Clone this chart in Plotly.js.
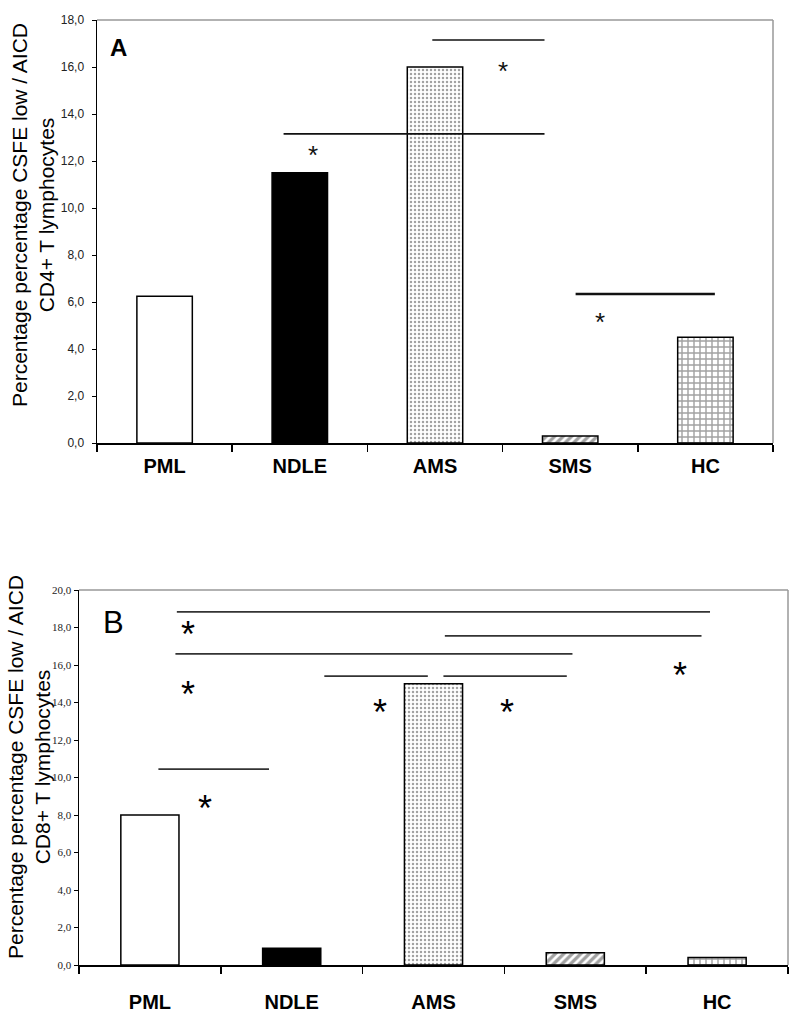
<!DOCTYPE html>
<html>
<head>
<meta charset="utf-8">
<script src="https://cdn.plot.ly/plotly-3.0.1.min.js"></script>
<style>html,body{margin:0;padding:0;background:#fff;}#chart{width:800px;height:1025px;}</style>
</head>
<body>
<div id="chart"></div>
<script>
// ---- data ----
const categories = ["PML", "NDLE", "AMS", "SMS", "HC"];
const valuesA = [6.25, 11.5, 16.0, 0.3, 4.5];
const valuesB = [8.0, 0.9, 15.0, 0.65, 0.4];

const yTickValsA = [0, 2, 4, 6, 8, 10, 12, 14, 16, 18];
const yTickTextA = ["0,0", "2,0", "4,0", "6,0", "8,0", "10,0", "12,0", "14,0", "16,0", "18,0"];
const yTickValsB = [0, 2, 4, 6, 8, 10, 12, 14, 16, 18, 20];
const yTickTextB = ["0,0", "2,0", "4,0", "6,0", "8,0", "10,0", "12,0", "14,0", "16,0", "18,0", "20,0"];

// significance brackets (category-index units, value units)
const sigA_x0 = [1.98, 0.88, 3.04];
const sigA_x1 = [2.81, 2.81, 4.07];
const sigA_y = [17.15, 13.15, 6.34];
const starsA_x = [2.50, 1.10, 3.22];
const starsA_y = [16.04, 12.47, 5.36];

const sigB_x0 = [0.19, 2.08, 0.18, 1.23, 2.07, 0.06];
const sigB_x1 = [3.95, 3.89, 2.98, 1.96, 2.94, 0.84];
const sigB_y = [18.83, 17.55, 16.59, 15.41, 15.41, 10.45];
const starsB_x = [0.27, 0.27, 1.62, 2.52, 3.74, 0.39];
const starsB_y = [18.08, 14.83, 13.87, 13.87, 15.89, 8.8];

const yTitleA = "Percentage percentage CSFE low / AICD<br>CD4+ T lymphocytes";
const yTitleB = "Percentage percentage CSFE low / AICD<br>CD8+ T lymphocytes";

// ---- styles ----
const SANS = "Liberation Sans, Arial, sans-serif";
const SERIF = "Liberation Serif, Times New Roman, serif";
const barColors = ["#ffffff", "#000000", "#ffffff", "#ffffff", "#ffffff"];
const patShapes = ["", "", ".", "/", "+"];
const patSizes = [6, 6, 4, 6, 6];
const patSolid = [0.3, 0.3, 0.3, 0.55, 0.42];

function barTrace(vals, xa, ya) {
  return {
    type: "bar", x: categories, y: vals, xaxis: xa, yaxis: ya,
    width: 0.41,
    marker: {
      color: barColors,
      line: {color: "#000", width: 1.5},
      pattern: {shape: patShapes, size: patSizes, solidity: patSolid, fgcolor: "#000", bgcolor: "#fff", fillmode: "overlay"}
    },
    hoverinfo: "skip", showlegend: false
  };
}

const W = 800, H = 1025;
const px = v => v / W, py = v => 1 - v / H;

// plot areas in pixels
const A = {l: 97, r: 773, t: 20, b: 443};
const B = {l: 79, r: 788, t: 590, b: 965};

const shapes = [];
const annotations = [];

function frame(P) {
  shapes.push({type: "line", xref: "paper", yref: "paper", x0: px(P.l), x1: px(P.r), y0: py(P.t), y1: py(P.t), line: {color: "#999", width: 1.5}});
  shapes.push({type: "line", xref: "paper", yref: "paper", x0: px(P.r), x1: px(P.r), y0: py(P.t), y1: py(P.b), line: {color: "#999", width: 1.5}});
}
frame(A); frame(B);

sigA_y.forEach((y, i) => {
  shapes.push({type: "line", xref: "x", yref: "y", x0: sigA_x0[i], x1: sigA_x1[i], y0: y, y1: y,
    line: {color: "#111", width: i === 2 ? 2.6 : 1.7}});
});
sigB_y.forEach((y, i) => {
  shapes.push({type: "line", xref: "x2", yref: "y2", x0: sigB_x0[i], x1: sigB_x1[i], y0: y, y1: y,
    line: {color: "#333", width: 1.7}});
});

starsA_x.forEach((x, i) => {
  annotations.push({xref: "x", yref: "y", x: x, y: starsA_y[i], text: "*", showarrow: false,
    xanchor: "center", yanchor: "middle",
    font: {family: SANS, size: 26, color: "#111"}, yshift: -5});
});
starsB_x.forEach((x, i) => {
  annotations.push({xref: "x2", yref: "y2", x: x, y: starsB_y[i], text: "*", showarrow: false,
    xanchor: "center", yanchor: "middle",
    font: {family: SANS, size: 36, color: "#000"}, yshift: -8});
});

annotations.push({xref: "paper", yref: "paper", x: px(118), y: py(47), text: "<b>A</b>", showarrow: false,
  xanchor: "center", yanchor: "middle", font: {family: SANS, size: 24, color: "#000"}});
annotations.push({xref: "paper", yref: "paper", x: px(114), y: py(622), text: "B", showarrow: false,
  xanchor: "center", yanchor: "middle", font: {family: SANS, size: 31, color: "#000"}});

annotations.push({xref: "paper", yref: "paper", x: px(33), y: py(215), text: yTitleA, showarrow: false,
  xanchor: "center", yanchor: "middle",
  textangle: -90, font: {family: SANS, size: 21, color: "#000"}});
annotations.push({xref: "paper", yref: "paper", x: px(29), y: py(767), text: yTitleB, showarrow: false,
  xanchor: "center", yanchor: "middle",
  textangle: -90, font: {family: SANS, size: 21, color: "#000"}});

const xCommon = {
  type: "category", categoryarray: categories, categoryorder: "array", range: [-0.5, 4.5],
  showline: true, linecolor: "#000", linewidth: 2, ticks: "outside", tickson: "boundaries",
  ticklen: 7, tickwidth: 1.5, tickcolor: "#000", showgrid: false, zeroline: false, fixedrange: true
};

const layout = {
  width: W, height: H,
  margin: {l: 0, r: 0, t: 0, b: 0},
  paper_bgcolor: "#fff", plot_bgcolor: "#fff",
  showlegend: false,
  bargap: 0,
  xaxis: Object.assign({}, xCommon, {domain: [px(A.l), px(A.r)], anchor: "y",
    tickfont: {family: SANS, size: 20, color: "#000", weight: "bold"}, ticklabelstandoff: 4}),
  yaxis: {domain: [py(A.b), py(A.t)], anchor: "x", range: [0, 18], tickvals: yTickValsA, ticktext: yTickTextA,
    showline: true, linecolor: "#000", linewidth: 1.5, ticks: "outside", ticklen: 4, tickcolor: "#000",
    ticklabelstandoff: 5,
    showgrid: false, zeroline: false, tickfont: {family: SANS, size: 12, color: "#222"}},
  xaxis2: Object.assign({}, xCommon, {domain: [px(B.l), px(B.r)], anchor: "y2",
    tickfont: {family: SANS, size: 20, color: "#000", weight: "bold"}, ticklabelstandoff: 18}),
  yaxis2: {domain: [py(B.b), py(B.t)], anchor: "x2", range: [0, 20], tickvals: yTickValsB, ticktext: yTickTextB,
    showline: true, linecolor: "#000", linewidth: 1.5, ticks: "outside", ticklen: 4, tickcolor: "#000",
    showgrid: false, zeroline: false, tickfont: {family: SERIF, size: 11, color: "#222"}},
  shapes: shapes,
  annotations: annotations
};

Plotly.newPlot("chart", [barTrace(valuesA, "x", "y"), barTrace(valuesB, "x2", "y2")], layout,
  {displayModeBar: false, staticPlot: true});
</script>
</body>
</html>
